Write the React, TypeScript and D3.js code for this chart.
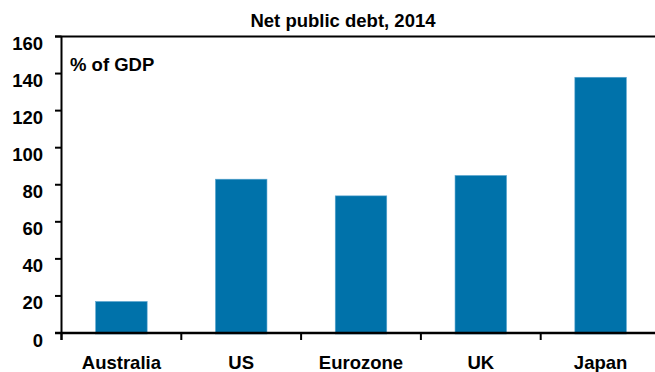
import React from "react";
import * as d3 from "d3";

const categories = ["Australia", "US", "Eurozone", "UK", "Japan"];
const debtValues = [17, 83, 74, 85, 138];
const yTicks = [0, 20, 40, 60, 80, 100, 120, 140, 160];
const chartTitle = "Net public debt, 2014";
const unitLabel = "% of GDP";

const W = 655;
const H = 372;
const left = 61.5;
const right = 660.5;
const top = 36.5;
const bottom = 333;
const FONT = "'Liberation Sans', Arial, Helvetica, sans-serif";
const BAR = "#0072AA";
const FS = 18.5;

export default function App() {
  const x = d3.scaleBand<string>().domain(categories).range([left, right]).paddingInner(0).paddingOuter(0);
  const y = d3.scaleLinear().domain([0, 160]).range([bottom, top]);
  const bw = x.bandwidth() * 0.43;

  return (
    <svg width={W} height={H} style={{ position: "absolute", left: 0, top: 0, background: "#fff" }} fontFamily={FONT}>
      <text x={343} y={27} textAnchor="middle" fontSize={FS} fontWeight="bold" fill="#000">
        {chartTitle}
      </text>
      {/* bars */}
      {categories.map((c, i) => (
        <rect
          key={c}
          x={(x(c) as number) + (x.bandwidth() - bw) / 2}
          y={y(debtValues[i])}
          width={bw}
          height={bottom - y(debtValues[i]) + 1}
          fill={BAR}
          stroke="#5aa6cf"
          strokeWidth={0.6}
        />
      ))}
      {/* frame top line */}
      <line x1={55} x2={W} y1={top} y2={top} stroke="#000" strokeWidth={2} />
      {/* y axis */}
      <line x1={left} x2={left} y1={top} y2={bottom + 7} stroke="#000" strokeWidth={2} />
      {yTicks.map((t) => (
        <g key={t}>
          <line x1={55} x2={left} y1={y(t)} y2={y(t)} stroke="#000" strokeWidth={2} />
          <text x={43} y={y(t) + 13.5} textAnchor="end" fontSize={FS} fontWeight="bold" fill="#000">
            {t}
          </text>
        </g>
      ))}
      {/* x axis */}
      <line x1={55} x2={W} y1={bottom} y2={bottom} stroke="#000" strokeWidth={2.5} />
      {categories.map((c) => (
        <g key={c}>
          <line x1={x(c) as number} x2={x(c) as number} y1={bottom} y2={bottom + 7} stroke="#000" strokeWidth={2} />
          <text
            x={(x(c) as number) + x.bandwidth() / 2}
            y={369}
            textAnchor="middle"
            fontSize={FS}
            fontWeight="bold"
            fill="#000"
          >
            {c}
          </text>
        </g>
      ))}
      <text x={70} y={71} fontSize={FS} fontWeight="bold" fill="#000">
        {unitLabel}
      </text>
    </svg>
  );
}
